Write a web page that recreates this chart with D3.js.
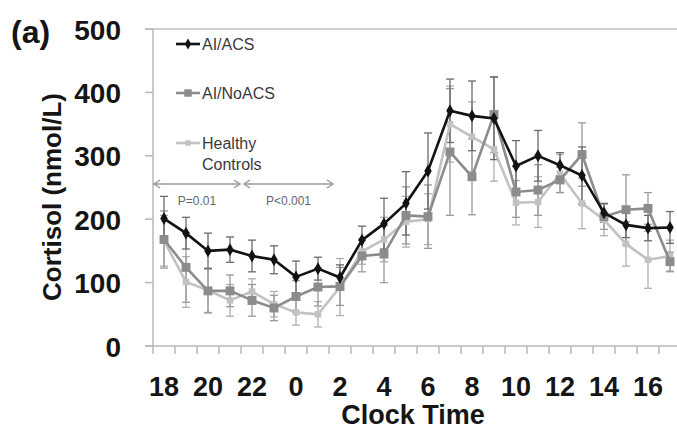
<!DOCTYPE html>
<html>
<head>
<meta charset="utf-8">
<script src="https://cdn.jsdelivr.net/npm/d3@7"></script>
<style>
    body { margin: 0; background: #fff; }
    text { font-family: "Liberation Sans", Arial, sans-serif; }
</style>
</head>
<body>
<div id="chart"></div>
<script>
// clock hours, 18:00 through 17:00 next day
const hours = [18, 19, 20, 21, 22, 23, 0, 1, 2, 3, 4, 5, 6, 7, 8, 9, 10, 11, 12, 13, 14, 15, 16, 17]
const hourLabels = [18, 20, 22, 0, 2, 4, 6, 8, 10, 12, 14, 16]
const yTicks = [0, 100, 200, 300, 400, 500]

// mean cortisol (nmol/L)
const acs = [201, 178, 150, 152, 142, 136, 109, 122, 108, 167, 193, 225, 276, 371, 363, 359, 284, 300, 285, 269, 210, 191, 186, 187]
const noAcs = [168, 124, 87, 87, 72, 60, 78, 93, 94, 142, 145, 206, 204, 306, 267, 365, 243, 246, 262, 302, 204, 215, 217, 133]
const healthy = [166, 101, 88, 72, 86, 66, 53, 50, 93, 149, 168, 196, 200, 350, 330, 310, 226, 227, 272, 225, 199, 161, 136, 142]

// error bar half-widths
const acsErr = [35, 25, 28, 20, 25, 22, 25, 18, 20, 22, 40, 50, 60, 50, 55, 65, 40, 40, 20, 45, 15, 20, 20, 25]
const noAcsErr = [45, 55, 35, 25, 25, 20, 25, 30, 30, 25, 45, 45, 50, 100, 60, 60, 40, 40, 20, 50, 20, 55, 25, 15]
const healthyErr = [40, 40, 35, 25, 20, 20, 20, 20, 45, 20, 35, 40, 40, 60, 55, 50, 35, 40, 30, 40, 25, 35, 45, 25]

// p-value brackets: [from hour, to hour, label]
const brackets = [[18, 22, 'P=0.01'], [22, 2, 'P<0.001']]

const drawChart = () => {
    const width = 677,
        height = 429
    const left = 153, top = 29, bottom = 346

    const svg = d3.select('#chart').append('svg')
        .attr('width', width)
        .attr('height', height)

    const x = d3.scaleBand()
        .domain(hours)
        .range([left, left + 22 * hours.length])

    const y = d3.scaleLinear()
        .domain([0, 500])
        .range([bottom, top])

    // top gridline
    svg.append('line')
        .attr('x1', left - 8).attr('x2', width)
        .attr('y1', y(500)).attr('y2', y(500))
        .attr('stroke', '#cfcfcf')
        .attr('stroke-width', 2)

    // y axis line + ticks
    svg.append('line')
        .attr('x1', left).attr('x2', left)
        .attr('y1', y(500)).attr('y2', y(0))
        .attr('stroke', '#b8b8b8')
        .attr('stroke-width', 1.5)
    svg.append('g')
        .selectAll('line')
        .data(yTicks)
        .join('line')
        .attr('x1', left - 8).attr('x2', left)
        .attr('y1', d => y(d)).attr('y2', d => y(d))
        .attr('stroke', '#b8b8b8')
        .attr('stroke-width', 1.5)

    // x axis line + boundary ticks
    svg.append('line')
        .attr('x1', left - 8).attr('x2', width)
        .attr('y1', y(0)).attr('y2', y(0))
        .attr('stroke', '#b8b8b8')
        .attr('stroke-width', 1.5)
    svg.append('g')
        .selectAll('line')
        .data(hours)
        .join('line')
        .attr('x1', d => x(d)).attr('x2', d => x(d))
        .attr('y1', y(0)).attr('y2', y(0) + 8)
        .attr('stroke', '#b8b8b8')
        .attr('stroke-width', 1.5)

    const yAxis = g => g
        .attr('transform', `translate(${left},0)`)
        .call(d3.axisLeft(y).tickValues(yTicks).tickSize(0).tickPadding(32))
        .call(g => g.select('.domain').remove())
        .call(g => g.selectAll('text')
            .attr('font-size', 28)
            .attr('font-weight', 'bold')
            .attr('fill', '#151515')
            .attr('dy', '0.36em'))

    const xAxis = g => g
        .attr('transform', `translate(0,${bottom})`)
        .call(d3.axisBottom(x).tickValues(hourLabels).tickSize(0).tickPadding(31))
        .call(g => g.select('.domain').remove())
        .call(g => g.selectAll('text')
            .attr('font-size', 27)
            .attr('font-weight', 'bold')
            .attr('fill', '#151515')
            .attr('dy', '0.71em'))

    svg.append('g').call(yAxis)
    svg.append('g').call(xAxis)
    svg.selectAll('g text').attr('font-family', '"Liberation Sans", Arial, sans-serif')

    // titles
    svg.append('text')
        .attr('x', 11).attr('y', 43)
        .attr('font-size', 32)
        .attr('font-weight', 'bold')
        .attr('fill', '#151515')
        .text('(a)')

    svg.append('text')
        .attr('transform', 'translate(61,197) rotate(-90)')
        .attr('text-anchor', 'middle')
        .attr('font-size', 26)
        .attr('font-weight', 'bold')
        .attr('fill', '#151515')
        .text('Cortisol (nmol/L)')

    svg.append('text')
        .attr('x', 413).attr('y', 424)
        .attr('text-anchor', 'middle')
        .attr('font-size', 27)
        .attr('font-weight', 'bold')
        .attr('fill', '#151515')
        .text('Clock Time')

    // p-value arrows
    const arrowY = 184
    const bx = h => x(h) - (h == 2 ? -5 : 0)
    brackets.forEach(([a, b, label], i) => {
        const x1 = x(a) + (i ? 3 : 1), x2 = bx(b) - 1
        const g = svg.append('g')
            .attr('stroke', '#9a9a9a')
            .attr('stroke-width', 1.5)
            .attr('fill', 'none')
        g.append('line')
            .attr('x1', x1).attr('x2', x2)
            .attr('y1', arrowY).attr('y2', arrowY)
        g.append('path').attr('d', `M${x1 + 6},${arrowY - 4}L${x1},${arrowY}L${x1 + 6},${arrowY + 4}`)
        g.append('path').attr('d', `M${x2 - 6},${arrowY - 4}L${x2},${arrowY}L${x2 - 6},${arrowY + 4}`)
        svg.append('text')
            .attr('x', (x1 + x2) / 2).attr('y', arrowY + 21)
            .attr('text-anchor', 'middle')
            .attr('font-size', 12)
            .attr('fill', '#666')
            .text(label)
    })

    const series = [
        { name: 'healthy', values: healthy, err: healthyErr, color: '#c2c2c2', errColor: '#b0b0b0', symbol: d3.symbolSquare, size: 42 },
        { name: 'noacs', values: noAcs, err: noAcsErr, color: '#8c8c8c', errColor: '#9a9a9a', symbol: d3.symbolSquare, size: 80 },
        { name: 'acs', values: acs, err: acsErr, color: '#121212', errColor: '#6a6a6a', symbol: d3.symbolDiamond, size: 48 }
    ]

    const cx = h => x(h) + x.bandwidth() / 2

    // error bars first, then lines on top
    series.forEach(s => {
        const g = svg.append('g')
            .attr('stroke', s.errColor)
            .attr('stroke-width', 1.3)
        g.selectAll('line.bar')
            .data(hours)
            .join('line')
            .attr('class', 'bar')
            .attr('x1', cx).attr('x2', cx)
            .attr('y1', (d, i) => y(s.values[i] + s.err[i]))
            .attr('y2', (d, i) => y(s.values[i] - s.err[i]))
        g.selectAll('line.cap-hi')
            .data(hours)
            .join('line')
            .attr('class', 'cap-hi')
            .attr('x1', d => cx(d) - 4).attr('x2', d => cx(d) + 4)
            .attr('y1', (d, i) => y(s.values[i] + s.err[i]))
            .attr('y2', (d, i) => y(s.values[i] + s.err[i]))
        g.selectAll('line.cap-lo')
            .data(hours)
            .join('line')
            .attr('class', 'cap-lo')
            .attr('x1', d => cx(d) - 4).attr('x2', d => cx(d) + 4)
            .attr('y1', (d, i) => y(s.values[i] - s.err[i]))
            .attr('y2', (d, i) => y(s.values[i] - s.err[i]))
    })

    const line = d3.line()
        .x(d => cx(d[0]))
        .y(d => y(d[1]))

    series.forEach(s => {
        const pts = hours.map((h, i) => [h, s.values[i]])
        svg.append('path')
            .datum(pts)
            .attr('fill', 'none')
            .attr('stroke', s.color)
            .attr('stroke-width', 2.6)
            .attr('d', line)
        svg.append('g')
            .selectAll('path')
            .data(pts)
            .join('path')
            .attr('transform', d => `translate(${cx(d[0])},${y(d[1])})`)
            .attr('d', d3.symbol(s.symbol, s.size))
            .attr('fill', s.color)
    })

    // legend
    const legend = [
        { label: ['AI/ACS'], s: series[2], y: 44 },
        { label: ['AI/NoACS'], s: series[1], y: 93 },
        { label: ['Healthy', 'Controls'], s: series[0], y: 143 }
    ]
    legend.forEach(l => {
        svg.append('line')
            .attr('x1', 176).attr('x2', 200)
            .attr('y1', l.y).attr('y2', l.y)
            .attr('stroke', l.s.color)
            .attr('stroke-width', 2.6)
        svg.append('path')
            .attr('transform', `translate(188,${l.y})`)
            .attr('d', d3.symbol(l.s.symbol, l.s.size * 0.7))
            .attr('fill', l.s.color)
        l.label.forEach((t, j) => {
            svg.append('text')
                .attr('x', 202).attr('y', l.y + 6 + j * 21)
                .attr('font-size', 16)
                .attr('fill', '#3a3a3a')
                .text(t)
        })
    })
}

drawChart()
</script>
</body>
</html>
